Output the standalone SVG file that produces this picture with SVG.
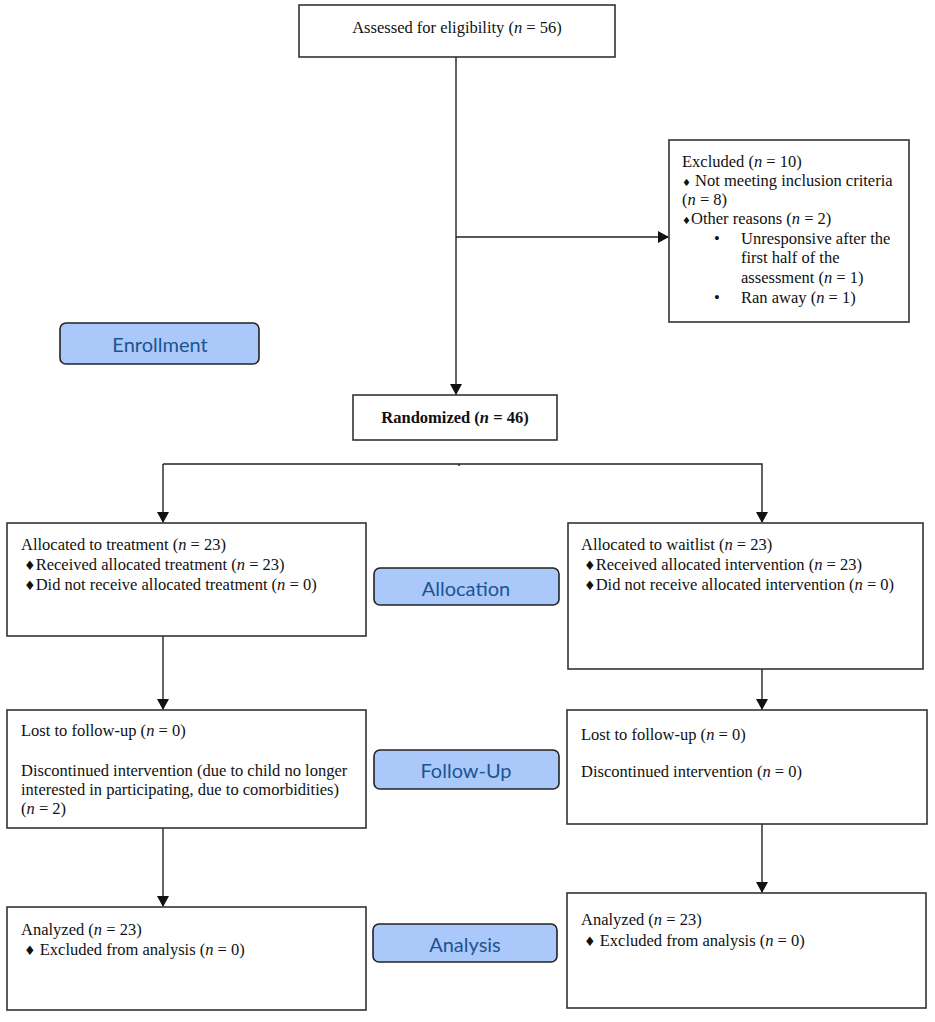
<svg xmlns="http://www.w3.org/2000/svg" width="935" height="1022" viewBox="0 0 935 1022">
<defs>
<marker id="ah" markerWidth="11" markerHeight="12" refX="10" refY="6" orient="auto" markerUnits="userSpaceOnUse">
<path d="M0,0 L11,6 L0,12 z" fill="#111"/>
</marker>
<style>
.box{fill:#fff;stroke:#333;stroke-width:1.6}
.lbl{fill:#aac8fa;stroke:#222;stroke-width:1.6}
.t{font-family:"Liberation Serif","Times New Roman",serif;font-size:16.5px;fill:#111}
.c{text-anchor:middle}
.b{font-weight:bold}
.lt{font-family:Lato,"Open Sans",sans-serif;font-size:20px;fill:#1a5590;text-anchor:middle}
.con{stroke:#222;stroke-width:1.4;fill:none}
.d{font-family:"DejaVu Sans",sans-serif;font-size:13px}
.ds{font-family:"DejaVu Sans",sans-serif;font-size:10px}
</style>
</defs>
<rect width="935" height="1022" fill="#fff"/>
<g id="connectors">
<line class="con" x1="456" y1="57" x2="456" y2="394" marker-end="url(#ah)"/>
<line class="con" x1="456" y1="237" x2="668" y2="237" marker-end="url(#ah)"/>
<polyline class="con" points="163,464 762,464 762,522" marker-end="url(#ah)"/>
<line class="con" x1="163" y1="464" x2="163" y2="522" marker-end="url(#ah)"/>
<line class="con" x1="459" y1="464" x2="459" y2="466"/>
<line class="con" x1="163" y1="636" x2="163" y2="709" marker-end="url(#ah)"/>
<line class="con" x1="762" y1="669" x2="762" y2="709" marker-end="url(#ah)"/>
<line class="con" x1="163" y1="828" x2="163" y2="906" marker-end="url(#ah)"/>
<line class="con" x1="762" y1="824" x2="762" y2="892" marker-end="url(#ah)"/>
</g>
<g id="assessed">
<rect class="box" x="299" y="5" width="316" height="52"/>
<text class="t c" x="457" y="33">Assessed for eligibility (<tspan font-style="italic">n</tspan> = 56)</text>
</g>
<g id="excluded">
<rect class="box" x="669" y="140" width="240" height="182"/>
<text class="t" x="682" y="167">Excluded (<tspan font-style="italic">n</tspan> = 10)</text>
<text class="t" x="682" y="186"><tspan class="ds">♦</tspan> Not meeting inclusion criteria</text>
<text class="t" x="682" y="205">(<tspan font-style="italic">n</tspan> = 8)</text>
<text class="t" x="682" y="224"><tspan class="ds">♦</tspan>Other reasons (<tspan font-style="italic">n</tspan> = 2)</text>
<text class="t" x="714" y="244">•</text>
<text class="t" x="741" y="244">Unresponsive after the</text>
<text class="t" x="741" y="263">first half of the</text>
<text class="t" x="741" y="283">assessment (<tspan font-style="italic">n</tspan> = 1)</text>
<text class="t" x="714" y="303">•</text>
<text class="t" x="741" y="303">Ran away (<tspan font-style="italic">n</tspan> = 1)</text>
</g>
<g id="enrollment">
<rect class="lbl" x="60" y="323" width="199" height="41" rx="6"/>
<text class="lt" x="160" y="352">Enrollment</text>
</g>
<g id="randomized">
<rect class="box" x="353" y="395" width="204" height="45"/>
<text class="t c b" x="455" y="423">Randomized (<tspan font-style="italic">n</tspan> = 46)</text>
</g>
<g id="alloc-treatment">
<rect class="box" x="7" y="523" width="359" height="113"/>
<text class="t" x="21" y="550">Allocated to treatment (<tspan font-style="italic">n</tspan> = 23)</text>
<text class="t" x="24" y="570"><tspan class="d">♦</tspan>Received allocated treatment (<tspan font-style="italic">n</tspan> = 23)</text>
<text class="t" x="24" y="590"><tspan class="d">♦</tspan>Did not receive allocated treatment (<tspan font-style="italic">n</tspan> = 0)</text>
</g>
<g id="allocation">
<rect class="lbl" x="374" y="568" width="185" height="37" rx="6"/>
<text class="lt" x="466" y="596">Allocation</text>
</g>
<g id="alloc-waitlist">
<rect class="box" x="568" y="523" width="355" height="146"/>
<text class="t" x="581" y="550">Allocated to waitlist (<tspan font-style="italic">n</tspan> = 23)</text>
<text class="t" x="584" y="570"><tspan class="d">♦</tspan>Received allocated intervention (<tspan font-style="italic">n</tspan> = 23)</text>
<text class="t" x="584" y="590"><tspan class="d">♦</tspan>Did not receive allocated intervention (<tspan font-style="italic">n</tspan> = 0)</text>
</g>
<g id="lost-left">
<rect class="box" x="7" y="710" width="359" height="118"/>
<text class="t" x="21" y="736">Lost to follow-up (<tspan font-style="italic">n</tspan> = 0)</text>
<text class="t" x="21" y="776">Discontinued intervention (due to child no longer</text>
<text class="t" x="21" y="795">interested in participating, due to comorbidities)</text>
<text class="t" x="21" y="814">(<tspan font-style="italic">n</tspan> = 2)</text>
</g>
<g id="followup">
<rect class="lbl" x="374" y="750" width="185" height="39" rx="6"/>
<text class="lt" x="466" y="778">Follow-Up</text>
</g>
<g id="lost-right">
<rect class="box" x="567" y="710" width="360" height="114"/>
<text class="t" x="581" y="740">Lost to follow-up (<tspan font-style="italic">n</tspan> = 0)</text>
<text class="t" x="581" y="777">Discontinued intervention (<tspan font-style="italic">n</tspan> = 0)</text>
</g>
<g id="analyzed-left">
<rect class="box" x="7" y="907" width="359" height="103"/>
<text class="t" x="21" y="935">Analyzed (<tspan font-style="italic">n</tspan> = 23)</text>
<text class="t" x="24" y="955"><tspan class="d">♦</tspan> Excluded from analysis (<tspan font-style="italic">n</tspan> = 0)</text>
</g>
<g id="analysis">
<rect class="lbl" x="373" y="924" width="184" height="38" rx="6"/>
<text class="lt" x="465" y="952">Analysis</text>
</g>
<g id="analyzed-right">
<rect class="box" x="567" y="893" width="359" height="115"/>
<text class="t" x="581" y="925">Analyzed (<tspan font-style="italic">n</tspan> = 23)</text>
<text class="t" x="584" y="946"><tspan class="d">♦</tspan> Excluded from analysis (<tspan font-style="italic">n</tspan> = 0)</text>
</g>
</svg>
